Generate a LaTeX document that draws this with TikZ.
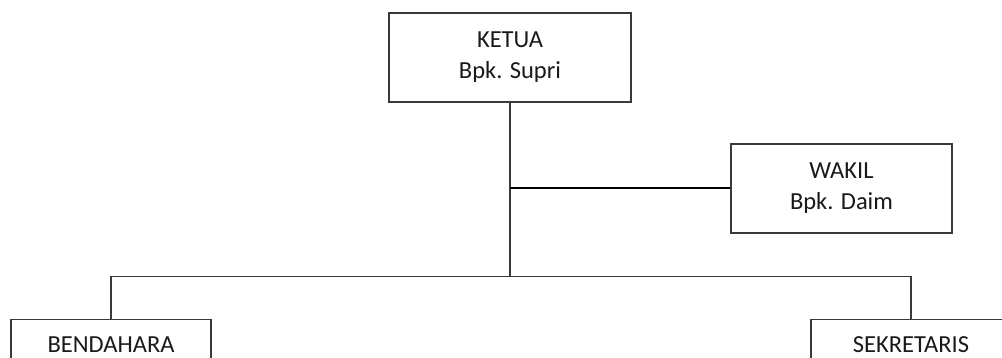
\documentclass[tikz,border=0pt]{standalone}
\usepackage{fontspec}
\setmainfont{Carlito}
\usetikzlibrary{calc}
\definecolor{linegray}{HTML}{3A3A3A}
\definecolor{textgray}{HTML}{1A1A1A}
\begin{document}
\begin{tikzpicture}[x=1pt,y=-1pt,
  orgbox/.style={draw=linegray, line width=1.3pt, fill=white, inner sep=0pt,
    align=center, text=textgray,
    font=\fontsize{24.5}{31}\selectfont},
  link/.style={draw=linegray, line width=1.2pt},
  boldlink/.style={draw=black, line width=2pt}]
  \useasboundingbox (0,0) rectangle (1002,358);
  \clip (0,0) rectangle (1002,358);

  % boxes
  \node[orgbox, minimum width=242pt, minimum height=89pt] (ketua) at (510,57.5)
    {KETUA\\Bpk. Supri};
  \node[orgbox, minimum width=221pt, minimum height=89pt] (wakil) at (841.5,188.5)
    {WAKIL\\Bpk. Daim};
  \node[orgbox, minimum width=200pt, minimum height=51pt] (bend) at (111,345)
    {BENDAHARA};
  \node[orgbox, minimum width=200pt, minimum height=51pt] (sekr) at (911,345)
    {SEKRETARIS};

  % junction points on the main trunk
  \coordinate (side) at (ketua.south |- wakil.west);
  \coordinate (bus) at ($(ketua.south)+(0,174)$);

  % connectors
  \draw[link] (ketua.south) -- (bus);
  \draw[boldlink] (side) -- (wakil.west);
  \draw[link] (bend.north) |- (bus) -| (sekr.north);
\end{tikzpicture}
\end{document}
